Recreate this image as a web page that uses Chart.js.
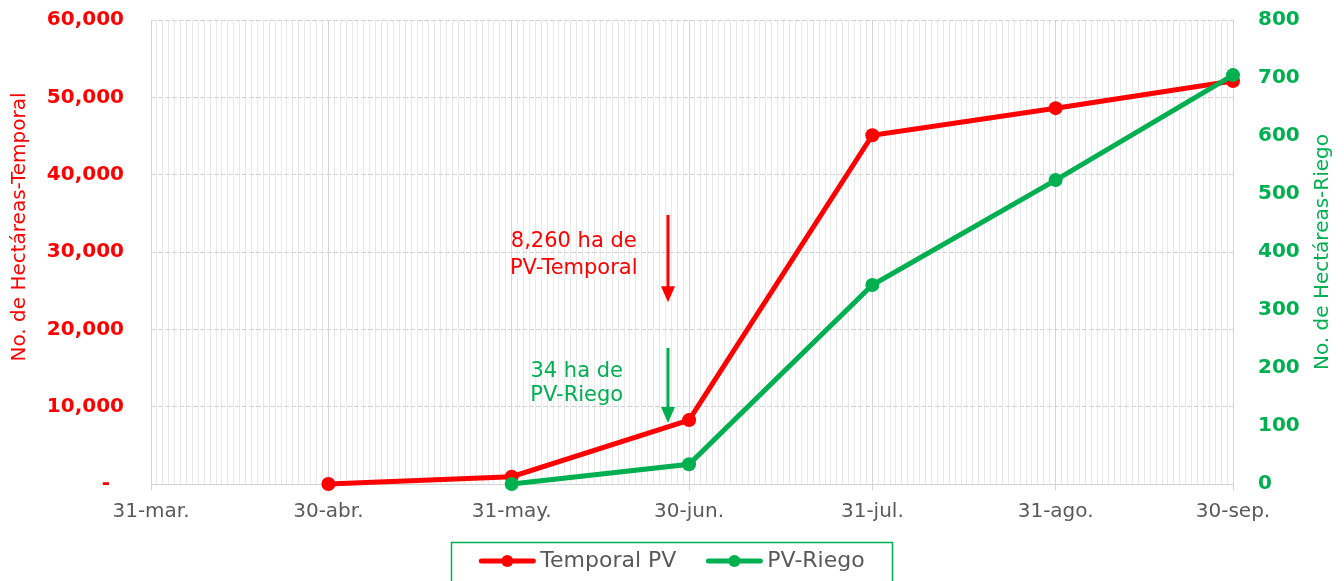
<!DOCTYPE html>
<html>
<head>
<meta charset="utf-8">
<script src="https://cdn.jsdelivr.net/npm/chart.js@4.4.0/dist/chart.umd.min.js"></script>
<style>
html,body{margin:0;padding:0;background:#ffffff;}
#c{display:block;}
</style>
</head>
<body>
<canvas id="c" width="1344" height="581"></canvas>
<script>
// ---- data ----
const startDate = '2024-03-31';
const tickDates = ['2024-03-31','2024-04-30','2024-05-31','2024-06-30','2024-07-31','2024-08-31','2024-09-30'];
const tickLabels = ['31-mar.','30-abr.','31-may.','30-jun.','31-jul.','31-ago.','30-sep.'];

const temporalLabel = 'Temporal PV';
const temporalDates = ['2024-04-30','2024-05-31','2024-06-30','2024-07-31','2024-08-31','2024-09-30'];
const temporalValues = [0, 950, 8260, 45100, 48600, 52100];

const riegoLabel = 'PV-Riego';
const riegoDates = ['2024-05-31','2024-06-30','2024-07-31','2024-08-31','2024-09-30'];
const riegoValues = [0, 34, 343, 524, 705];

const leftTitle = 'No. de Hectáreas-Temporal';
const rightTitle = 'No. de Hectáreas-Riego';

const noteTemporalLines = ['8,260 ha de', 'PV-Temporal'];
const noteRiegoLines = ['34 ha de', 'PV-Riego'];

// ---- helpers ----
const RED = '#FF0000';
const GREEN = '#00B050';
const GREY = '#595959';
const FONT = '"DejaVu Sans", sans-serif';
const dayOf = d => (Date.parse(d) - Date.parse(startDate)) / 86400000;
const tickDays = tickDates.map(dayOf);
const lastDay = tickDays[tickDays.length - 1];

const temporalPoints = temporalDates.map((d, i) => ({x: dayOf(d), y: temporalValues[i]}));
const riegoPoints = riegoDates.map((d, i) => ({x: dayOf(d), y: riegoValues[i]}));

// annotation anchors (data space: date, left-axis value)
const noteTemporal = {textX: '2024-06-10T12:00Z', textY: [31300, 27900], arrowX: '2024-06-26T12:00Z', arrowFrom: 34800, arrowTo: 23500};
const noteRiego = {textX: '2024-06-11T00:00Z', textY: [14600, 11400], arrowX: '2024-06-26T12:00Z', arrowFrom: 17600, arrowTo: 7900};

const isMajor = v => tickDays.indexOf(v) >= 0;

function drawArrow(ctx, x, y1, y2, color) {
  const head = 16, hw = 7;
  ctx.save();
  ctx.strokeStyle = color;
  ctx.fillStyle = color;
  ctx.lineWidth = 3;
  ctx.beginPath();
  ctx.moveTo(x, y1);
  ctx.lineTo(x, y2 - head + 1);
  ctx.stroke();
  ctx.beginPath();
  ctx.moveTo(x - hw, y2 - head);
  ctx.lineTo(x + hw, y2 - head);
  ctx.lineTo(x, y2);
  ctx.closePath();
  ctx.fill();
  ctx.restore();
}

const extrasPlugin = {
  id: 'extras',
  afterDatasetsDraw(chart) {
    const ctx = chart.ctx;
    const xs = chart.scales.x, ys = chart.scales.y;
    ctx.save();
    ctx.font = '21px ' + FONT;
    ctx.textAlign = 'center';
    ctx.textBaseline = 'middle';
    [[noteTemporal, noteTemporalLines, RED], [noteRiego, noteRiegoLines, GREEN]].forEach(([n, lines, col]) => {
      ctx.fillStyle = col;
      const tx = xs.getPixelForValue(dayOf(n.textX));
      lines.forEach((t, i) => ctx.fillText(t, tx, ys.getPixelForValue(n.textY[i])));
      drawArrow(ctx, Math.round(xs.getPixelForValue(dayOf(n.arrowX))), ys.getPixelForValue(n.arrowFrom), ys.getPixelForValue(n.arrowTo), col);
    });
    ctx.restore();
  },
  afterDraw(chart) {
    const ctx = chart.ctx;
    const area = chart.chartArea;
    const midY = (area.top + area.bottom) / 2;
    ctx.save();
    // axis titles (both read bottom-to-top)
    ctx.font = '20px ' + FONT;
    ctx.textAlign = 'center';
    ctx.textBaseline = 'middle';
    ctx.fillStyle = RED;
    ctx.save();
    ctx.translate(20, midY - 25);
    ctx.rotate(-Math.PI / 2);
    ctx.fillText(leftTitle, 0, 0);
    ctx.restore();
    ctx.fillStyle = GREEN;
    ctx.save();
    ctx.translate(chart.width - 21, midY);
    ctx.rotate(-Math.PI / 2);
    ctx.fillText(rightTitle, 0, 0);
    ctx.restore();

    // legend
    const items = chart.data.datasets.slice().sort((a, b) => a.legendIndex - b.legendIndex);
    ctx.font = '22px ' + FONT;
    const sample = 56, gap = 5, spacing = 30, pad = 28;
    const widths = items.map(ds => sample + gap + ctx.measureText(ds.label).width);
    const total = widths.reduce((a, b) => a + b, 0) + spacing * (items.length - 1);
    let x = chart.width / 2 - total / 2;
    const ly = 561;
    ctx.strokeStyle = GREEN;
    ctx.lineWidth = 1.5;
    ctx.strokeRect(Math.round(x - pad) + 0.5, 542.5, Math.round(total + 2 * pad), 45);
    ctx.textBaseline = 'middle';
    items.forEach((ds, i) => {
      ctx.strokeStyle = ds.borderColor;
      ctx.fillStyle = ds.borderColor;
      ctx.lineWidth = 5;
      ctx.lineCap = 'round';
      ctx.beginPath();
      ctx.moveTo(x + 2, ly);
      ctx.lineTo(x + sample - 2, ly);
      ctx.stroke();
      ctx.beginPath();
      ctx.arc(x + sample / 2, ly, 6, 0, Math.PI * 2);
      ctx.fill();
      ctx.fillStyle = GREY;
      ctx.textAlign = 'left';
      ctx.fillText(ds.label, x + sample + gap, ly);
      x += widths[i] + spacing;
    });
    ctx.restore();
  }
};

const chart = new Chart(document.getElementById('c'), {
  type: 'line',
  data: {
    datasets: [
      {
        label: temporalLabel, legendIndex: 0, data: temporalPoints, yAxisID: 'y',
        borderColor: RED, backgroundColor: RED, pointBackgroundColor: RED, pointBorderColor: RED,
        borderWidth: 5, pointRadius: 7, pointBorderWidth: 0, tension: 0, clip: false, order: 2
      },
      {
        label: riegoLabel, legendIndex: 1, data: riegoPoints, yAxisID: 'y1',
        borderColor: GREEN, backgroundColor: GREEN, pointBackgroundColor: GREEN, pointBorderColor: GREEN,
        borderWidth: 5, pointRadius: 7, pointBorderWidth: 0, tension: 0, clip: false, order: 1
      }
    ]
  },
  options: {
    responsive: false,
    animation: false,
    devicePixelRatio: 1,
    layout: {padding: {top: 20, left: 0, right: 0, bottom: 40}},
    plugins: {legend: {display: false}, tooltip: {enabled: false}},
    scales: {
      x: {
        type: 'linear', min: 0, max: lastDay,
        afterBuildTicks: s => { const t = []; for (let i = 0; i <= lastDay; i++) t.push({value: i}); s.ticks = t; },
        afterFit: s => { s.height = 57; },
        ticks: {
          autoSkip: false, maxRotation: 0, minRotation: 0, padding: 10,
          color: GREY, font: {family: FONT, size: 20},
          callback: v => { const i = tickDays.indexOf(v); return i >= 0 ? tickLabels[i] : ''; }
        },
        grid: {
          color: c => isMajor(c.tick && c.tick.value) ? '#d4d4d4' : '#e9e9e9',
          tickColor: c => isMajor(c.tick && c.tick.value) ? '#d4d4d4' : 'rgba(0,0,0,0)',
          tickLength: 6, lineWidth: 1
        },
        border: {display: true, color: '#d4d4d4', width: 1}
      },
      y: {
        position: 'left', min: 0, max: 60000,
        afterFit: s => { s.width = 151; },
        ticks: {
          stepSize: 10000, padding: 0, color: RED, font: {family: FONT, size: 20, weight: 'bold'},
          callback: v => v === 0 ? '-  ' : v.toLocaleString('en-US')
        },
        grid: {color: '#d4d4d4', drawTicks: true, tickLength: 27, tickColor: 'rgba(0,0,0,0)', lineWidth: 1},
        border: {display: false, dash: [5, 2]}
      },
      y1: {
        position: 'right', min: 0, max: 800,
        afterFit: s => { s.width = 111; },
        ticks: {stepSize: 100, padding: 0, color: GREEN, font: {family: FONT, size: 20, weight: 'bold'}},
        grid: {drawOnChartArea: false, drawTicks: true, tickLength: 25, tickColor: 'rgba(0,0,0,0)'},
        border: {display: false}
      }
    }
  },
  plugins: [extrasPlugin]
});
</script>
</body>
</html>
